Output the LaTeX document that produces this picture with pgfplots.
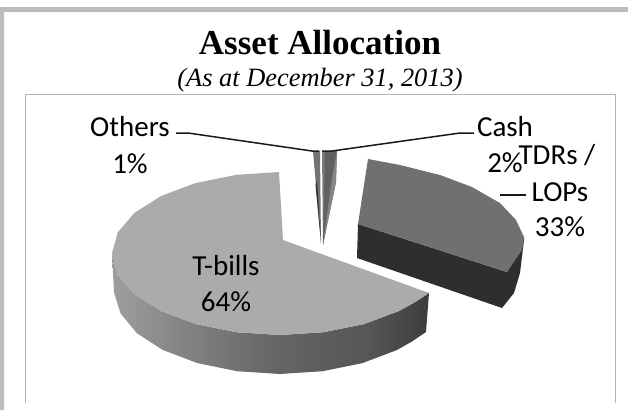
\documentclass[border=0pt]{standalone}
\usepackage{pgfplots}
\pgfplotsset{compat=1.18}
\usepackage{fontspec}
\setmainfont{Liberation Serif}
\newfontfamily\lab{Carlito}
\pgfdeclarehorizontalshading{sideshade}{100bp}{color(0bp)=(black!38);color(25bp)=(black!38);color(38bp)=(black!50);color(50bp)=(black!60);color(65bp)=(black!66);color(75bp)=(black!76);color(100bp)=(black!76)}
\definecolor{bandc}{HTML}{BDBDBD}
\definecolor{framec}{HTML}{B4B4B4}
\begin{document}
\begin{tikzpicture}
\begin{axis}[
  scale only axis, width=628pt, height=410pt,
  xmin=0, xmax=628, ymin=0, ymax=410, y dir=reverse,
  hide axis, clip=false, no markers,
  every axis plot/.append style={line join=round, forget plot},
]
% outer band
\addplot[draw=none, fill=bandc] coordinates {(0,7)(628,7)(628,12)(4,12)(4,410)(0,410)} --cycle;
% chart frame
\addplot[draw=framec, line width=1.6pt] coordinates {(25.5,403)(25.5,94.5)(615.5,94.5)(615.5,403)};
% invisible corner to keep the frame of the page
\addplot[draw=none] coordinates {(0,0)(628,410)};
% T-bills side
\addplot[draw=none, shade, shading=sideshade] coordinates {
 (112,253.5)(117.7,274.6)(134.5,294.3)(161.2,311.1)(196,324.1)(236.5,332.2)(280,335)(323.5,332.2)(364,324.1)(398.8,311.1)(414.2,302.6)(429,293)
 (426,332)(411.8,341.6)(396.7,350.1)(362.5,363.1)(322.7,371.2)(280,374)(237,371.2)(197.5,363.1)(163,350.1)(137,333.3)(120.6,313.6)(114,292.5)} --cycle;
% T-bills top
\addplot[draw=none, fill=black!33] coordinates {
 (283,240)(279,172)(236.5,174.8)(196,182.9)(161.2,195.9)(134.5,212.8)(117.7,232.4)(112,253.5)(117.7,274.6)(134.5,294.3)(161.2,311.1)(196,324.1)(236.5,332.2)(280,335)(323.5,332.2)(364,324.1)(398.8,311.1)(414.2,302.6)(429,293)} --cycle;
% TDRs side
\addplot[draw=none, fill=black!82] coordinates {
 (358,224)(357,258)(502,308)(514,293)(520,273)(524,240)(524,237)(507,272)} --cycle;
% TDRs top
\addplot[draw=none, fill=black!56] coordinates {
 (358,224)(368,159)(400,165)(440,175)(472,187)(500,203)(516,220)(524,237)(522,250)(507,272)} --cycle;
% Others
\addplot[draw=none, fill=black!55] coordinates {(313,151)(320,151)(321,243)} --cycle;
\addplot[draw=none, fill=black!80] coordinates {(315.5,185)(317,180)(321,243)} --cycle;
% Cash
\addplot[draw=none, fill=black!52] coordinates {(322,151)(337,151)(336,182)(323,245)} --cycle;
\addplot[draw=none, fill=black!62] coordinates {(325,151)(337,151)(323,245)} --cycle;
\addplot[draw=none, fill=black!48] coordinates {(337,151)(336,182)(323,245)(332,178)} --cycle;
% leader lines
\addplot[draw=black!90, line width=1.5pt] coordinates {(176,133)(188,133)(312,151)(319,151)};
\addplot[draw=black!90, line width=1.5pt] coordinates {(474,133)(460,133)(332,151)(322,151)};
\addplot[draw=black!90, line width=1.5pt] coordinates {(526,195)(500,195)};
% texts
\node[anchor=center, inner sep=0pt] at (axis cs:320,43) {\fontsize{35}{35}\selectfont\bfseries Asset Allocation};
\node[anchor=center, inner sep=0pt] at (axis cs:320,80) {\fontsize{26.4}{26.4}\selectfont\itshape (As at December 31, 2013)};
\newcommand{\lb}[3]{\node[anchor=center, inner sep=0pt] at (axis cs:#1,#2) {\lab\fontsize{29}{29}\selectfont #3};}
\lb{130}{127}{Others}
\lb{130}{164}{1\%}
\lb{505}{127}{Cash}
\lb{505}{163}{2\%}
\lb{557}{155}{TDRs /}
\lb{560}{192}{LOPs}
\lb{560}{227}{33\%}
\lb{226}{266}{T-bills}
\lb{226}{302}{64\%}
\end{axis}
\end{tikzpicture}
\end{document}
